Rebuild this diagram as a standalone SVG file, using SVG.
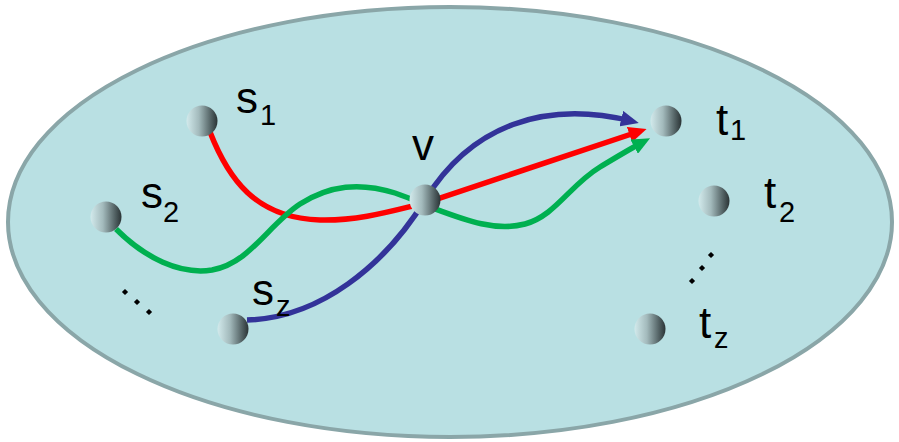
<svg xmlns="http://www.w3.org/2000/svg" width="899" height="442" viewBox="0 0 899 442">
<style>
.lbl{font-family:"Liberation Sans",Arial,sans-serif;font-size:44px;fill:#000}
.sub{font-family:"Liberation Sans",Arial,sans-serif;font-size:29px;fill:#000}
.node{fill:url(#ball)}
.edge{fill:none;stroke-width:5.5}
.dot{fill:#000}
</style>
<defs>
<linearGradient id="ball" x1="0" y1="0" x2="1" y2="0">
<stop offset="0" stop-color="#d2eaec"/>
<stop offset="0.4" stop-color="#a3babc"/>
<stop offset="0.8" stop-color="#505f61"/>
<stop offset="1" stop-color="#2a3335"/>
</linearGradient>
<marker id="aR" markerUnits="userSpaceOnUse" markerWidth="18" markerHeight="16" refX="10" refY="8" orient="auto" viewBox="0 0 18 16"><path d="M0,0 L18,8 L0,16 z" fill="#ff0000"/></marker>
<marker id="aG" markerUnits="userSpaceOnUse" markerWidth="18" markerHeight="16" refX="10" refY="8" orient="auto" viewBox="0 0 18 16"><path d="M0,0 L18,8 L0,16 z" fill="#00b050"/></marker>
<marker id="aB" markerUnits="userSpaceOnUse" markerWidth="18" markerHeight="16" refX="10" refY="8" orient="auto" viewBox="0 0 18 16"><path d="M0,0 L18,8 L0,16 z" fill="#333399"/></marker>
</defs>
<ellipse id="region" cx="450" cy="222" rx="442" ry="215" fill="#b9e0e3" stroke="#8aa6a8" stroke-width="4"/>
<g id="connectors">
<path class="edge" stroke="#ff0000" d="M210,132 C228,178 255,218 320,220 C360,221 395,210 425,203 L639,131.5" marker-end="url(#aR)"/>
<path class="edge" stroke="#00b050" d="M116,229 C145,258 180,275 212,270 C250,263 268,225 300,204 C330,185 360,182 395,193 C410,198 420,203 430,207 C465,220 495,232 525,224 C555,216 570,185 600,167 C615,158 628,150 643,142" marker-end="url(#aG)"/>
<path class="edge" stroke="#333399" d="M247,320 C320,318 385,265 425,200 C471,125 545,100 631,121" marker-end="url(#aB)"/>
</g>
<g id="s1"><circle class="node" cx="202" cy="121" r="15.5"/><text class="lbl" x="236" y="113">s</text><text class="sub" x="260" y="125">1</text></g>
<g id="s2"><circle class="node" cx="106" cy="217" r="15.5"/><text class="lbl" x="141" y="208">s</text><text class="sub" x="163" y="222">2</text></g>
<g id="sz"><circle class="node" cx="233" cy="329" r="15.5"/><text class="lbl" x="252" y="305">s</text><text class="sub" x="276" y="316">z</text></g>
<g id="v"><circle class="node" cx="425" cy="200" r="15.5"/><text class="lbl" x="412" y="160">v</text></g>
<g id="t1"><circle class="node" cx="666" cy="121" r="15.5"/><text class="lbl" x="716" y="135">t</text><text class="sub" x="730" y="140">1</text></g>
<g id="t2"><circle class="node" cx="714" cy="201" r="15.5"/><text class="lbl" x="764" y="208">t</text><text class="sub" x="779" y="222">2</text></g>
<g id="tz"><circle class="node" cx="650" cy="329" r="15.5"/><text class="lbl" x="699" y="338">t</text><text class="sub" x="714" y="348">z</text></g>
<g id="dots-left">
<rect class="dot" x="-2.2" y="-2.2" width="4.4" height="4.4" transform="translate(125,292) rotate(45)"/>
<rect class="dot" x="-2.2" y="-2.2" width="4.4" height="4.4" transform="translate(137,302) rotate(45)"/>
<rect class="dot" x="-2.2" y="-2.2" width="4.4" height="4.4" transform="translate(149,312) rotate(45)"/>
</g>
<g id="dots-right">
<rect class="dot" x="-2.2" y="-2.2" width="4.4" height="4.4" transform="translate(711,255) rotate(45)"/>
<rect class="dot" x="-2.2" y="-2.2" width="4.4" height="4.4" transform="translate(702,268) rotate(45)"/>
<rect class="dot" x="-2.2" y="-2.2" width="4.4" height="4.4" transform="translate(692,281) rotate(45)"/>
</g>
</svg>
